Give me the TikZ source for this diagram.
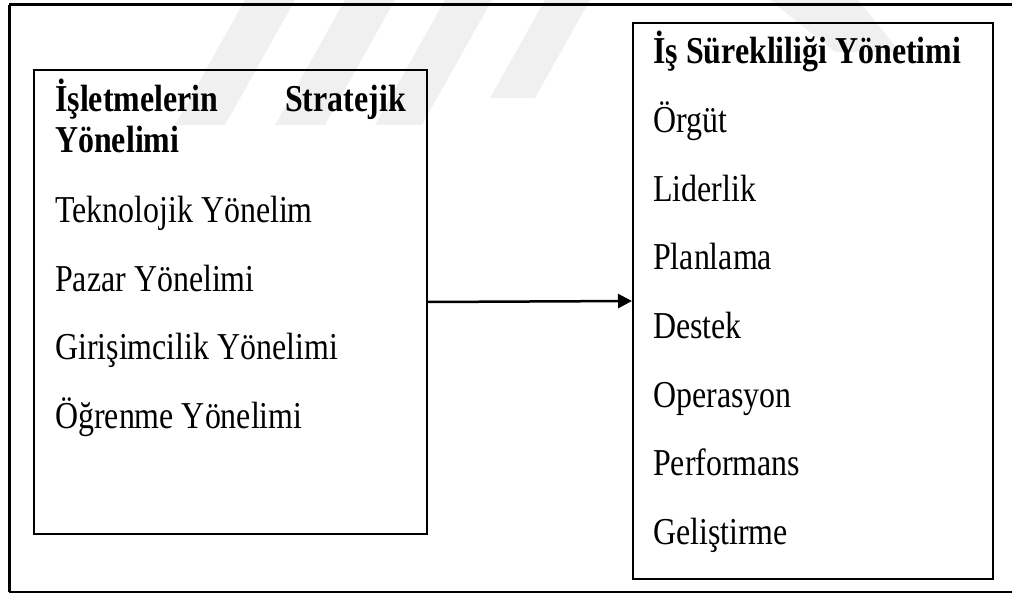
\documentclass[tikz,border=0pt]{standalone}
\usepackage{fontspec}
\setmainfont{Liberation Serif}[FakeStretch=0.84]
\usetikzlibrary{arrows.meta}

\tikzset{
  frame/.style={draw=black, line width=3pt},
  panel/.style={draw=black, line width=2pt, inner sep=0pt, fill=none},
  item/.style={anchor=base west, inner sep=0pt, font=\fontsize{38}{41}\selectfont},
  head/.style={item, font=\fontsize{38}{41}\selectfont\bfseries},
  link/.style={line width=2.5pt, -{Triangle[length=14pt,width=14pt]}},
  stripe/.style={fill=black!6, draw=none}
}

\begin{document}
\begin{tikzpicture}[x=1pt,y=-1pt]
  \useasboundingbox (0,0) rectangle (1012,593);
  \begin{scope}
    \clip (0,0) rectangle (1012,593);
    % faint diagonal background bands
    \fill[stripe] (245,0) -- (295,0) -- (225,125) -- (175,125) -- cycle;
    \fill[stripe] (345,0) -- (395,0) -- (325,125) -- (275,125) -- cycle;
    \fill[stripe] (445,0) -- (492,0) -- (422,125) -- (375,125) -- cycle;
    \fill[stripe] (545,0) -- (590,0) -- (535,98) -- (490,98) -- cycle;
    \fill[stripe] (770,0) -- (858,0) -- (900,52) -- (835,52) -- cycle;
    % outer frame, running past the right edge
    \draw[frame] (9,5) -- (1030,5);
    \draw[frame] (9,592) -- (1030,592);
    \draw[frame] (9,5) -- (9,592);
  \end{scope}

  % the two panels
  \node[panel, minimum width=393pt, minimum height=464pt] (strat) at (230.5,302) {};
  \node[panel, minimum width=360pt, minimum height=556pt] (bcm) at (813,301) {};

  % left panel text
  \node[head] (s1) at (55,112) {İşletmelerin};
  \node[head, anchor=base east] (s2) at (406,112) {Stratejik};
  \node[head] (s3) at (55,153) {Yönelimi};
  \node[item] (s4) at (55,223) {Teknolojik Yönelim};
  \node[item] (s5) at (55,291.5) {Pazar Yönelimi};
  \node[item] (s6) at (55,360) {Girişimcilik Yönelimi};
  \node[item] (s7) at (55,428.5) {Öğrenme Yönelimi};

  % right panel text
  \node[head] (b0) at (653,64) {İş Sürekliliği Yönetimi};
  \node[item] (b1) at (653,133) {Örgüt};
  \node[item] (b2) at (653,201.5) {Liderlik};
  \node[item] (b3) at (653,270) {Planlama};
  \node[item] (b4) at (653,338.5) {Destek};
  \node[item] (b5) at (653,407) {Operasyon};
  \node[item] (b6) at (653,475.5) {Performans};
  \node[item] (b7) at (653,544) {Geliştirme};

  % connector
  \draw[link] (strat.east) -- (bcm.west);
\end{tikzpicture}
\end{document}
